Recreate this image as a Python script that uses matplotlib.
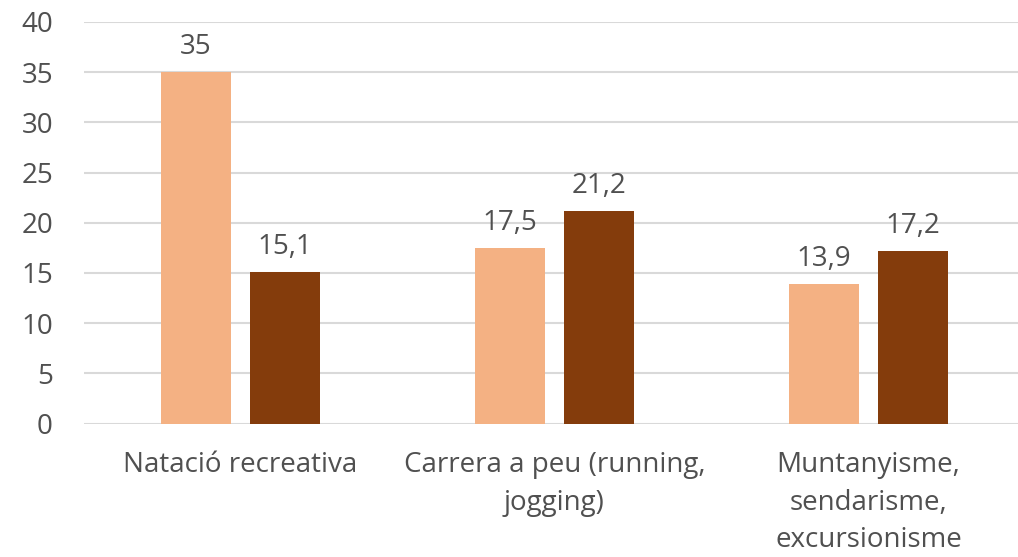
import numpy as np
import matplotlib.pyplot as plt

categories = ['Natació recreativa', 'Carrera a peu (running,\njogging)',
              'Muntanyisme,\nsendarisme,\nexcursionisme']
serie_a = [35, 17.5, 13.9]
serie_b = [15.1, 21.2, 17.2]
yticks = [0, 5, 10, 15, 20, 25, 30, 35, 40]

plt.rcParams['font.family'] = ['Open Sans', 'DejaVu Sans']
text_color = '#505050'

W, H = 1018, 557
fig = plt.figure(figsize=(W / 100, H / 100), dpi=100)
ax = fig.add_axes([83.5 / W, (H - 423.5) / H, 942 / W, 401.5 / H])

x = np.arange(len(categories))
width = 0.223
off = 0.1415
bars_a = ax.bar(x - off, serie_a, width, color='#F4B183', zorder=3)
bars_b = ax.bar(x + off, serie_b, width, color='#843C0C', zorder=3)

for bars in (bars_a, bars_b):
    labels = [f'{v:g}'.replace('.', ',') for v in bars.datavalues]
    ax.bar_label(bars, labels=labels, padding=8, fontsize=20, color=text_color)

ax.set_xlim(-0.5, len(categories) - 0.5)
ax.set_ylim(0, 40)
ax.set_yticks(yticks)
ax.set_xticks(x)
ax.set_xticklabels(categories, linespacing=1.45)
ax.tick_params(axis='both', length=0, labelsize=20, colors=text_color)
ax.tick_params(axis='x', pad=20)
ax.tick_params(axis='y', pad=22)
ax.grid(axis='y', color='#D9D9D9', linewidth=1.5, zorder=0)
for s in ax.spines.values():
    s.set_visible(False)

plt.savefig('out.png', dpi=100)
